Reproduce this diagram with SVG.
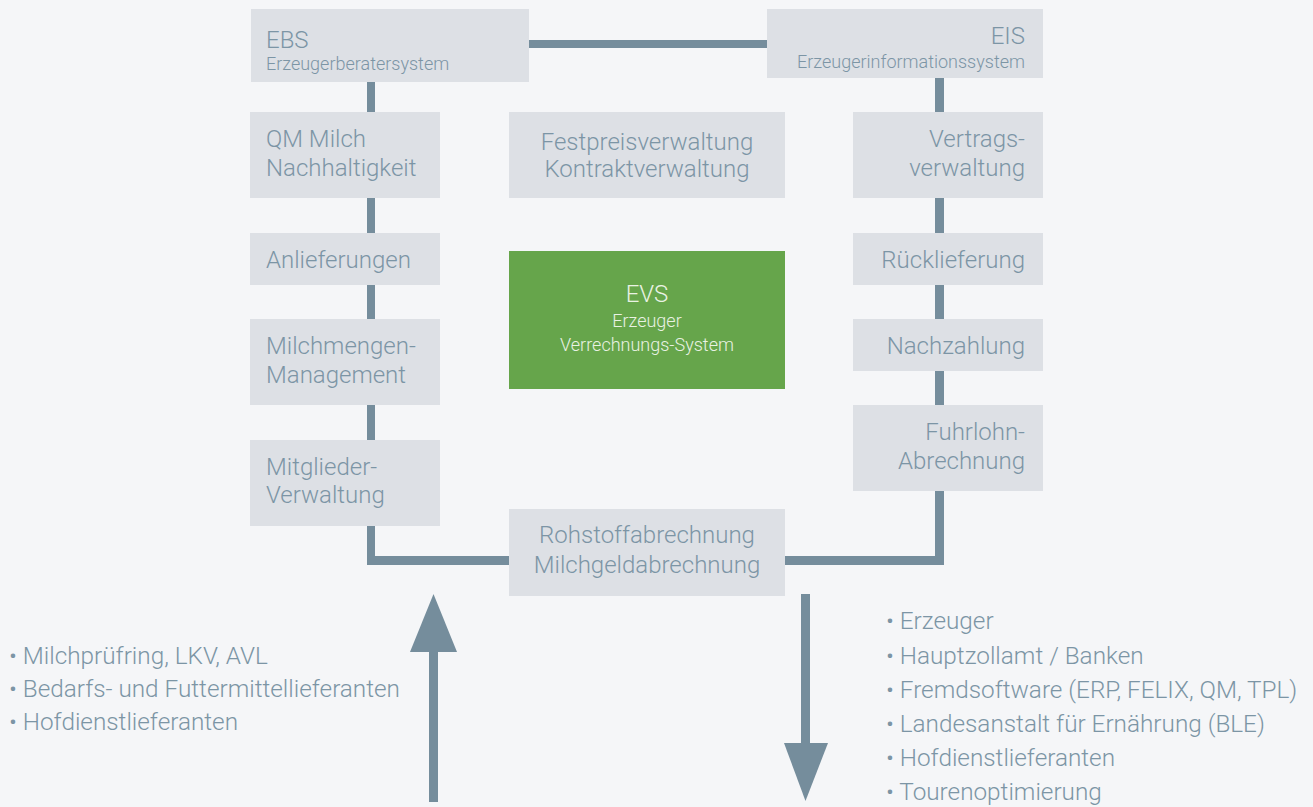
<svg xmlns="http://www.w3.org/2000/svg" width="1313" height="807" viewBox="0 0 1313 807">
<style>
.bx{fill:#dde0e5}
.t{font-family:Roboto,"Liberation Sans",sans-serif;font-weight:300;font-size:24px;fill:#7c95a5}
.s{font-size:18px}
.r{text-anchor:end}
.c{text-anchor:middle}
.w{fill:#e9f2e3}
.ln{fill:#758d9c}
.li{font-family:Roboto,"Liberation Sans",sans-serif;font-weight:300;font-size:24.3px;fill:#7c95a5}
</style>
<rect width="1313" height="807" fill="#f5f6f8"/>
<g id="connectors">
<rect class="ln" x="529" y="40" width="238" height="8"/>
<rect class="ln" x="367" y="82" width="8" height="30"/>
<rect class="ln" x="367" y="198" width="8" height="35"/>
<rect class="ln" x="367" y="285" width="8" height="34"/>
<rect class="ln" x="367" y="405" width="8" height="35"/>
<rect class="ln" x="367" y="526" width="8" height="39"/>
<rect class="ln" x="367" y="556" width="142" height="9"/>
<rect class="ln" x="935" y="78" width="9" height="34"/>
<rect class="ln" x="935" y="198" width="9" height="35"/>
<rect class="ln" x="935" y="285" width="9" height="34"/>
<rect class="ln" x="935" y="371" width="9" height="34"/>
<rect class="ln" x="935" y="491" width="9" height="74"/>
<rect class="ln" x="785" y="556" width="159" height="9"/>
<rect class="ln" x="429" y="640" width="9" height="162"/>
<polygon class="ln" points="433.5,594 457,652 410,652"/>
<rect class="ln" x="801" y="594" width="9" height="160"/>
<polygon class="ln" points="784,743 828,743 805.5,801"/>
</g>
<g id="ebs"><rect class="bx" x="251" y="9" width="278" height="73"/><text class="t" x="266" y="48">EBS</text><text class="t s" x="266" y="70">Erzeugerberatersystem</text></g>
<g id="eis"><rect class="bx" x="767" y="9" width="276" height="69"/><text class="t r" x="1025" y="44">EIS</text><text class="t s r" x="1025" y="68">Erzeugerinformationssystem</text></g>
<g id="qm"><rect class="bx" x="250" y="112" width="190" height="86"/><text class="t" x="266" y="147">QM Milch</text><text class="t" x="266" y="176">Nachhaltigkeit</text></g>
<g id="festpreis"><rect class="bx" x="509" y="112" width="276" height="86"/><text class="t c" x="647" y="150">Festpreisverwaltung</text><text class="t c" x="647" y="177">Kontraktverwaltung</text></g>
<g id="vertrags"><rect class="bx" x="853" y="112" width="190" height="86"/><text class="t r" x="1025" y="147">Vertrags-</text><text class="t r" x="1025" y="176">verwaltung</text></g>
<g id="anlieferungen"><rect class="bx" x="250" y="233" width="190" height="52"/><text class="t" x="266" y="268">Anlieferungen</text></g>
<g id="ruecklieferung"><rect class="bx" x="853" y="233" width="190" height="52"/><text class="t r" x="1025" y="268">Rücklieferung</text></g>
<g id="evs"><rect x="509" y="251" width="276" height="138" fill="#66a54b"/><text class="t c w" x="647" y="302">EVS</text><text class="t s c w" x="647" y="327">Erzeuger</text><text class="t s c w" x="647" y="351">Verrechnungs-System</text></g>
<g id="milchmengen"><rect class="bx" x="250" y="319" width="190" height="86"/><text class="t" x="266" y="354">Milchmengen-</text><text class="t" x="266" y="383">Management</text></g>
<g id="nachzahlung"><rect class="bx" x="853" y="319" width="190" height="52"/><text class="t r" x="1025" y="354">Nachzahlung</text></g>
<g id="fuhrlohn"><rect class="bx" x="853" y="405" width="190" height="86"/><text class="t r" x="1025" y="440">Fuhrlohn-</text><text class="t r" x="1025" y="469">Abrechnung</text></g>
<g id="mitglieder"><rect class="bx" x="250" y="440" width="190" height="86"/><text class="t" x="266" y="475">Mitglieder-</text><text class="t" x="266" y="503">Verwaltung</text></g>
<g id="rohstoff"><rect class="bx" x="509" y="509" width="276" height="87"/><text class="t c" x="647" y="543">Rohstoffabrechnung</text><text class="t c" x="647" y="573">Milchgeldabrechnung</text></g>
<g id="inputs">
<text class="li" x="9" y="664">• Milchprüfring, LKV, AVL</text>
<text class="li" x="9" y="697">• Bedarfs- und Futtermittellieferanten</text>
<text class="li" x="9" y="730">• Hofdienstlieferanten</text>
</g>
<g id="outputs">
<text class="li" x="886" y="629">• Erzeuger</text>
<text class="li" x="886" y="664">• Hauptzollamt / Banken</text>
<text class="li" x="886" y="698">• Fremdsoftware (ERP, FELIX, QM, TPL)</text>
<text class="li" x="886" y="732">• Landesanstalt für Ernährung (BLE)</text>
<text class="li" x="886" y="766">• Hofdienstlieferanten</text>
<text class="li" x="886" y="800">• Tourenoptimierung</text>
</g>
</svg>
